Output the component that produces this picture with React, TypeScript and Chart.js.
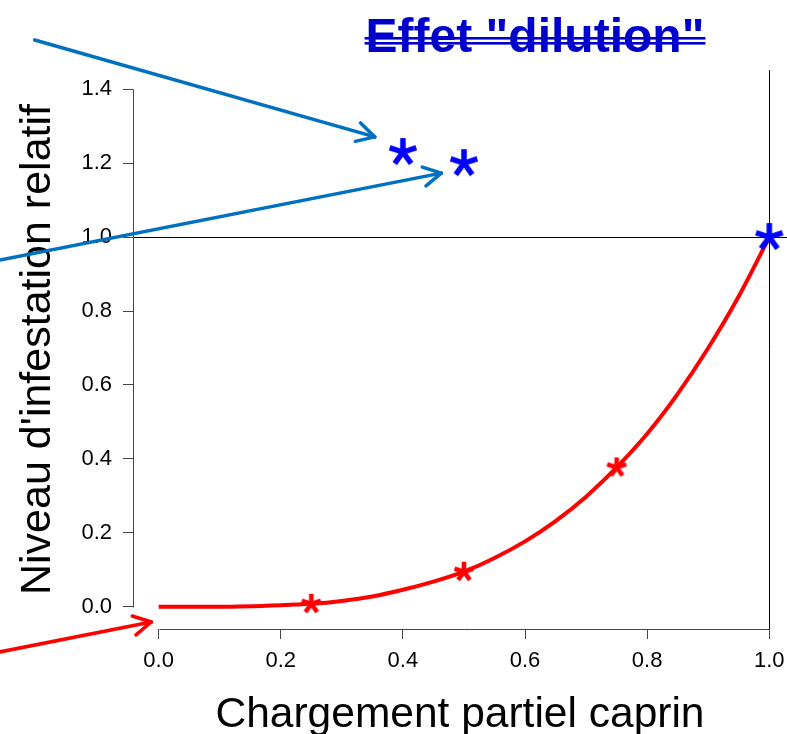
import React, { useEffect, useRef } from 'react';
import { Chart, registerables } from 'chart.js';

Chart.register(...registerables);

// ---- data ----
const CURVE_X = [0, 0.1, 0.2, 0.25, 0.3, 0.35, 0.4, 0.45, 0.5, 0.55, 0.6, 0.65, 0.7, 0.75, 0.8, 0.85, 0.9, 0.95, 1.0];
const CURVE_Y = [0, 0, 0.004, 0.008, 0.016, 0.028, 0.046, 0.068, 0.095, 0.132, 0.177, 0.232, 0.298, 0.377, 0.468, 0.576, 0.7, 0.84, 1.0];
const RED_MARK_X = [0.25, 0.5, 0.75];
const RED_MARK_Y = [0.008, 0.095, 0.377];
const BLUE_MARK_X = [0.4, 0.5, 1.0];
const BLUE_MARK_Y = [1.23, 1.2, 1.0];
const X_TICKS = [0, 0.2, 0.4, 0.6, 0.8, 1.0];
const Y_TICKS = [0, 0.2, 0.4, 0.6, 0.8, 1.0, 1.2, 1.4];
const REF_H = 1.0;
const REF_V = 1.0;
const ARROW_FROM_X = [-0.203, -0.26, -0.26];
const ARROW_FROM_Y = [1.533, 0.938, -0.122];
const ARROW_TO_X = [0.354, 0.463, -0.012];
const ARROW_TO_Y = [1.271, 1.173, -0.041];
const ARROW_COLORS = ['#0070C0', '#0070C0', '#FF0000'];
const TITLE = 'Effet "dilution"';
const X_TITLE = 'Chargement partiel caprin';
const Y_TITLE = "Niveau d'infestation relatif";

const FONT = '"Liberation Sans", Arial, Helvetica, sans-serif';

function makeStar(size: number, lw: number, color: string): HTMLCanvasElement {
  const c = document.createElement('canvas');
  c.width = size;
  c.height = size;
  const ctx = c.getContext('2d')!;
  ctx.strokeStyle = color;
  ctx.lineWidth = lw;
  ctx.lineCap = 'butt';
  const cx = size / 2;
  const r = size / 2 - 1;
  for (let i = 0; i < 5; i++) {
    const a = -Math.PI / 2 + (i * 2 * Math.PI) / 5;
    ctx.beginPath();
    ctx.moveTo(cx, cx);
    ctx.lineTo(cx + r * Math.cos(a), cx + r * Math.sin(a));
    ctx.stroke();
  }
  return c;
}

const decor = {
  id: 'decor',
  beforeDatasetsDraw(chart: any) {
    const { ctx, chartArea: a, scales } = chart;
    const x = scales.x;
    const y = scales.y;
    ctx.save();
    ctx.lineWidth = 1;
    ctx.strokeStyle = '#000';
    const yh = Math.round(y.getPixelForValue(REF_H)) + 0.5;
    ctx.beginPath();
    ctx.moveTo(a.left, yh);
    ctx.lineTo(a.right, yh);
    ctx.stroke();
    const xv = Math.round(x.getPixelForValue(REF_V)) + 0.5;
    ctx.beginPath();
    ctx.moveTo(xv, a.top);
    ctx.lineTo(xv, a.bottom);
    ctx.stroke();
    // R-style axis lines spanning the tick range only
    ctx.strokeStyle = '#444';
    const ax = Math.round(a.left) + 0.5;
    ctx.beginPath();
    ctx.moveTo(ax, Math.round(y.getPixelForValue(Y_TICKS[0])) + 0.5);
    ctx.lineTo(ax, Math.round(y.getPixelForValue(Y_TICKS[Y_TICKS.length - 1])) + 0.5);
    ctx.stroke();
    const ay = Math.round(a.bottom) + 0.5;
    ctx.beginPath();
    ctx.moveTo(Math.round(x.getPixelForValue(X_TICKS[0])) + 0.5, ay);
    ctx.lineTo(Math.round(x.getPixelForValue(X_TICKS[X_TICKS.length - 1])) + 0.5, ay);
    ctx.stroke();
    ctx.restore();
  },
  afterDraw(chart: any) {
    const { ctx, scales } = chart;
    const x = scales.x;
    const y = scales.y;
    ctx.save();
    // arrows
    for (let i = 0; i < ARROW_FROM_X.length; i++) {
      const x1 = x.getPixelForValue(ARROW_FROM_X[i]);
      const y1 = y.getPixelForValue(ARROW_FROM_Y[i]);
      const x2 = x.getPixelForValue(ARROW_TO_X[i]);
      const y2 = y.getPixelForValue(ARROW_TO_Y[i]);
      ctx.strokeStyle = ARROW_COLORS[i];
      ctx.lineWidth = 3.5;
      ctx.lineCap = 'round';
      ctx.lineJoin = 'round';
      ctx.beginPath();
      ctx.moveTo(x1, y1);
      ctx.lineTo(x2, y2);
      ctx.stroke();
      const ang = Math.atan2(y2 - y1, x2 - x1);
      ctx.beginPath();
      for (const s of [-1, 1]) {
        const a2 = ang + Math.PI + s * 0.5;
        ctx.moveTo(x2, y2);
        ctx.lineTo(x2 + 20 * Math.cos(a2), y2 + 20 * Math.sin(a2));
      }
      ctx.stroke();
    }
    // title with double strike lines
    ctx.font = `bold 48px ${FONT}`;
    ctx.fillStyle = '#0000CC';
    ctx.textAlign = 'center';
    ctx.textBaseline = 'alphabetic';
    const tx = 535;
    const ty = 52;
    ctx.fillText(TITLE, tx, ty);
    const w = ctx.measureText(TITLE).width;
    ctx.fillRect(tx - w / 2 - 1, 37, w + 2, 2.6);
    ctx.fillRect(tx - w / 2 - 1, 42, w + 2, 2.6);
    ctx.restore();
  },
};

export default function App() {
  const ref = useRef<HTMLCanvasElement | null>(null);
  useEffect(() => {
    if (!ref.current) return;
    const blueStar = makeStar(30, 5.5, '#0000FF');
    const redStar = makeStar(22, 4.5, '#FF0000');
    const chart = new Chart(ref.current, {
      type: 'scatter',
      data: {
        datasets: [
          {
            label: 'blue',
            data: BLUE_MARK_X.map((v, i) => ({ x: v, y: BLUE_MARK_Y[i] })),
            pointStyle: blueStar as any,
            pointRadius: 10,
            showLine: false,
          },
          {
            label: 'red marks',
            data: RED_MARK_X.map((v, i) => ({ x: v, y: RED_MARK_Y[i] })),
            pointStyle: redStar as any,
            pointRadius: 6,
            showLine: false,
          },
          {
            label: 'curve',
            data: CURVE_X.map((v, i) => ({ x: v, y: CURVE_Y[i] })),
            showLine: true,
            borderColor: '#FF0000',
            backgroundColor: '#FF0000',
            borderWidth: 4,
            pointRadius: 0,
            cubicInterpolationMode: 'monotone',
            fill: false,
          } as any,
        ],
      },
      options: {
        responsive: false,
        animation: false,
        devicePixelRatio: 1,
        layout: { autoPadding: false, padding: { top: 70, left: 0, right: 0, bottom: 0 } },
        plugins: {
          legend: { display: false },
          tooltip: { enabled: false },
          title: { display: false },
        },
        scales: {
          x: {
            type: 'linear',
            min: -0.042,
            max: 1.029,
            afterBuildTicks: (s: any) => {
              s.ticks = X_TICKS.map((v) => ({ value: v }));
            },
            afterFit: (s: any) => {
              s.height = 105;
              s.paddingLeft = 0;
              s.paddingRight = 0;
            },
            border: { display: false },
            grid: { drawOnChartArea: false, drawTicks: true, tickLength: 10, color: '#444', lineWidth: 1 },
            ticks: {
              font: { family: FONT, size: 22 },
              color: '#000',
              padding: 9,
              maxRotation: 0,
              autoSkip: false,
              callback: (v: any) => Number(v).toFixed(1),
            },
            title: {
              display: true,
              text: X_TITLE,
              color: '#000',
              font: { family: FONT, size: 42.5, lineHeight: 1 },
              padding: { top: 0, bottom: -3 },
            },
          },
          y: {
            type: 'linear',
            min: -0.06,
            max: 1.452,
            afterBuildTicks: (s: any) => {
              s.ticks = Y_TICKS.map((v) => ({ value: v }));
            },
            afterFit: (s: any) => {
              s.width = 133;
              s.paddingTop = 0;
              s.paddingBottom = 0;
            },
            border: { display: false },
            grid: { drawOnChartArea: false, drawTicks: true, tickLength: 10, color: '#444', lineWidth: 1 },
            ticks: {
              font: { family: FONT, size: 22 },
              color: '#000',
              padding: 11,
              autoSkip: false,
              callback: (v: any) => Number(v).toFixed(1),
            },
            title: {
              display: true,
              text: Y_TITLE,
              color: '#000',
              font: { family: FONT, size: 43 },
              padding: { top: 12, bottom: 0 },
            },
          },
        },
      },
      plugins: [decor],
    });
    return () => chart.destroy();
  }, []);
  return (
    <div style={{ position: 'fixed', left: 0, top: 0, width: 787, height: 734, overflow: 'hidden', background: '#fff' }}>
      <canvas ref={ref} width={787} height={734} style={{ display: 'block' }} />
    </div>
  );
}
